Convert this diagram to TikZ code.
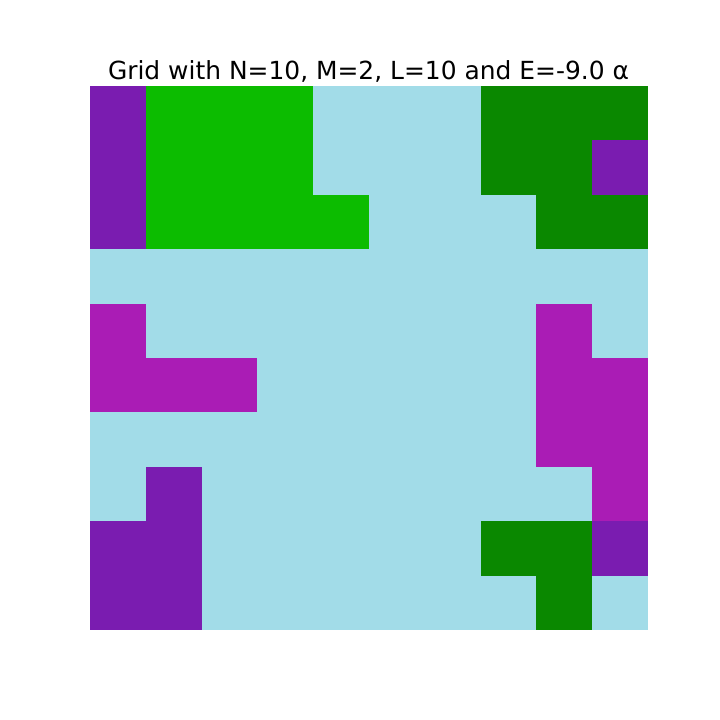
\documentclass[tikz,border=0pt]{standalone}
\usepackage{fontspec}
\setmainfont{DejaVu Sans}
\usetikzlibrary{positioning}

\definecolor{cellP}{HTML}{7A1CB0}
\definecolor{cellG}{HTML}{0CBC00}
\definecolor{cellB}{HTML}{A2DCE8}
\definecolor{cellD}{HTML}{0A8800}
\definecolor{cellM}{HTML}{AA1CB5}

\begin{document}
\begin{tikzpicture}[x=0.01in, y=-0.01in]

% canvas
\useasboundingbox (0,0) rectangle (720,720);

% =========================================================
%  Lattice: 10 x 10 cells, one letter per cell
% =========================================================
\foreach \row [count=\r from 0] in {
    {P,G,G,G,B,B,B,D,D,D},
    {P,G,G,G,B,B,B,D,D,P},
    {P,G,G,G,G,B,B,B,D,D},
    {B,B,B,B,B,B,B,B,B,B},
    {M,B,B,B,B,B,B,B,M,B},
    {M,M,M,B,B,B,B,B,M,M},
    {B,B,B,B,B,B,B,B,M,M},
    {B,P,B,B,B,B,B,B,B,M},
    {P,P,B,B,B,B,B,D,D,P},
    {P,P,B,B,B,B,B,B,D,B}} {
    \foreach \c [count=\k from 0] in \row {
        \fill[fill=cell\c]
            ({90+55.8*\k}, {86+54.4*\r}) rectangle ({90+55.8*(\k+1)}, {86+54.4*(\r+1)});
    }
}

% Title
\node[font=\fontsize{18}{21}\selectfont, anchor=base, inner sep=0pt] (title) at (368.5, 79.5)
    {Grid with N=10, M=2, L=10 and E=-9.0 α};

\end{tikzpicture}
\end{document}
